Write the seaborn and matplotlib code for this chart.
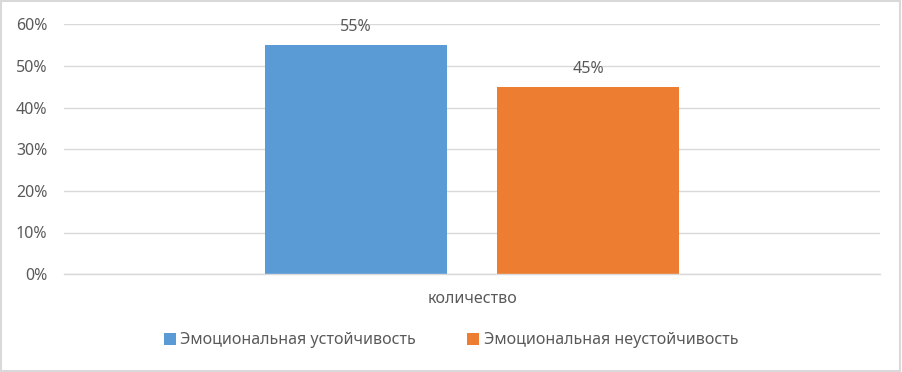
import seaborn as sns
import matplotlib.pyplot as plt
import pandas as pd
from matplotlib.patches import Rectangle

# values
categories = ['количество']
series = ['Эмоциональная устойчивость', 'Эмоциональная неустойчивость']
values = [0.55, 0.45]
colors = ['#5B9BD5', '#ED7D31']
ticks = [0, 0.1, 0.2, 0.3, 0.4, 0.5, 0.6]

sns.set_theme(style='white')
plt.rcParams['font.family'] = ['Noto Sans', 'DejaVu Sans']
text_color = '#595959'
fs = 11.5

df = pd.DataFrame({'cat': categories * len(series), 'series': series, 'value': values})

fig = plt.figure(figsize=(9.02, 3.72), dpi=100)
ax = fig.add_axes([0.071, 0.263, 0.905, 0.672])

sns.barplot(data=df, x='cat', y='value', hue='series', palette=colors,
            saturation=1, linewidth=0, edgecolor='none',
            width=0.569, gap=0.215, ax=ax, legend=True)

ax.set_ylim(0, 0.6)
ax.set_xlim(-0.5, 0.5)
ax.set_yticks(ticks)
ax.set_yticklabels([f'{int(round(t * 100))}%' for t in ticks])
ax.yaxis.grid(True, color='#d9d9d9', linewidth=1)
ax.set_axisbelow(True)
for side in ['top', 'right', 'left']:
    ax.spines[side].set_visible(False)
ax.spines['bottom'].set_color('#d9d9d9')
ax.spines['bottom'].set_linewidth(1)
ax.tick_params(axis='both', length=0, labelsize=fs, labelcolor=text_color)
ax.tick_params(axis='x', pad=12)
ax.tick_params(axis='y', pad=12)
ax.set_xlabel('')
ax.set_ylabel('')

for container in ax.containers:
    ax.bar_label(container, labels=[f'{int(round(v * 100))}%' for v in container.datavalues],
                 padding=7, fontsize=fs, color=text_color)

handles, labels = ax.get_legend_handles_labels()
ax.get_legend().remove()
fig.legend(handles, labels, loc='center', bbox_to_anchor=(0.5, 0.085), ncol=2,
           frameon=False, fontsize=fs, labelcolor=text_color,
           handlelength=0.75, handleheight=0.75, handletextpad=0.3, columnspacing=3.2)

fig.patches.append(Rectangle((0.001, 0.002), 0.997, 0.995, transform=fig.transFigure,
                             fill=False, edgecolor='#d9d9d9', linewidth=1.5))

plt.savefig('out.png', dpi=100)
